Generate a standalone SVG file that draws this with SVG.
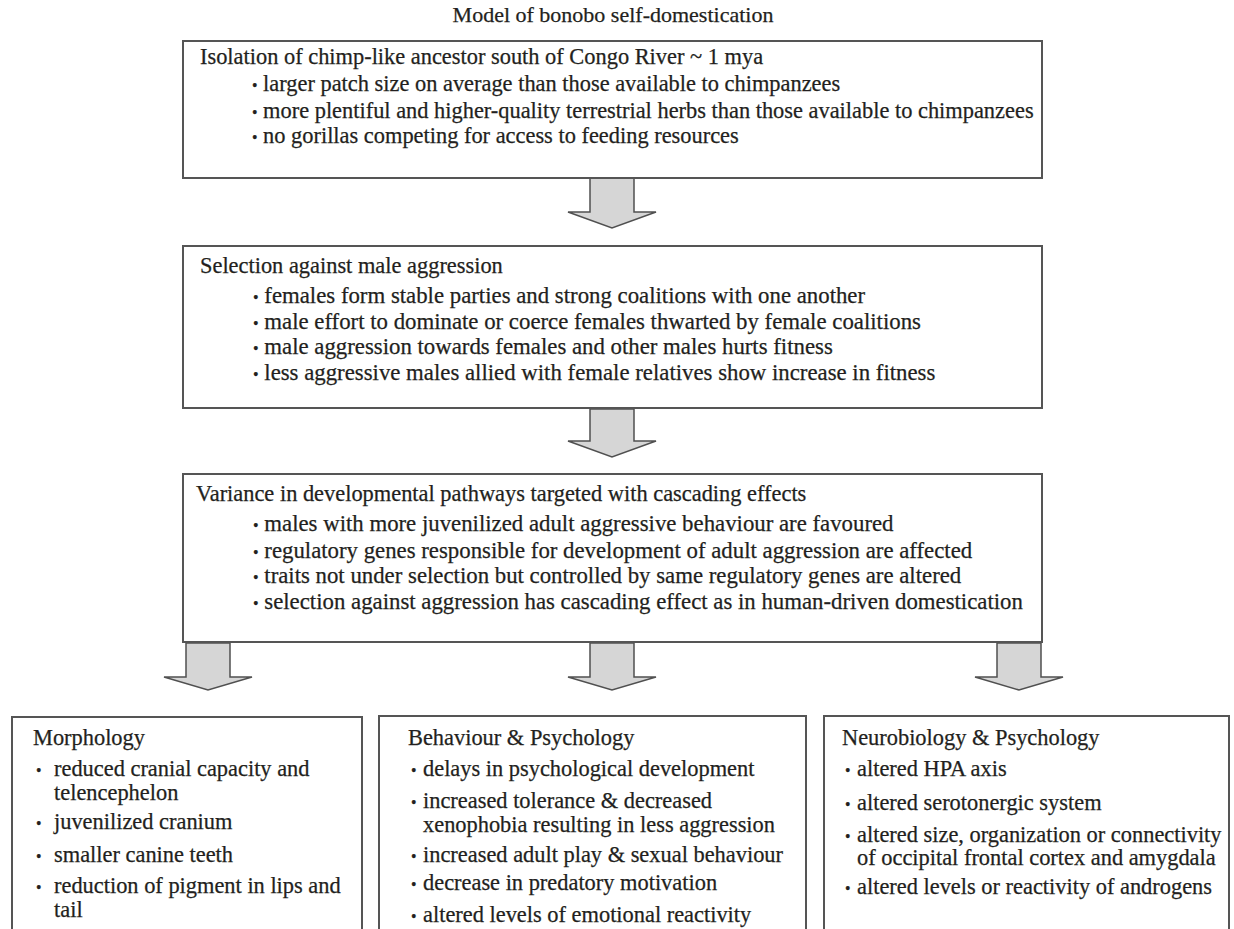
<svg xmlns="http://www.w3.org/2000/svg" width="1234" height="929" viewBox="0 0 1234 929">
  <style>
    .bg { fill: #ffffff; }
    .box { fill: #ffffff; stroke: #555555; stroke-width: 2; }
    .arrow { fill: #d6d6d6; stroke: #505050; stroke-width: 1.5; stroke-linejoin: miter; }
    text { font-family: "Liberation Serif", "Times New Roman", serif; fill: #231f20; stroke: #231f20; stroke-width: 0.25; font-size: 22.4px; }
    .title { font-size: 22px; }
    .m { font-size: 22.8px; }
    .dot { font-size: 0.7em; }
  </style>
  <rect class="bg" x="0" y="0" width="1234" height="929"/>
  <text class="title" x="613" y="22" text-anchor="middle">Model of bonobo self-domestication</text>

  <g id="connectors">
    <polygon class="arrow" points="590,178 590,212 568,212 612,228 656,212 634,212 634,178"/>
    <polygon class="arrow" points="590,409 590,441 568,441 612,457 656,441 634,441 634,409"/>
    <polygon class="arrow" points="186,643 186,677 164,677 208,690 252,677 230,677 230,643"/>
    <polygon class="arrow" points="590,643 590,677 568,677 612,690 656,677 634,677 634,643"/>
    <polygon class="arrow" points="997,643 997,677 975,677 1019,690 1063,677 1041,677 1041,643"/>
  </g>

  <g id="isolation">
    <rect class="box" x="183" y="41" width="859" height="137"/>
    <text x="200" y="64">Isolation of chimp-like ancestor south of Congo River ~ 1 mya</text>
    <text x="252" y="91"><tspan class="dot">•</tspan> larger patch size on average than those available to chimpanzees</text>
    <text x="252" y="118"><tspan class="dot">•</tspan> more plentiful and higher-quality terrestrial herbs than those available to chimpanzees</text>
    <text x="252" y="143"><tspan class="dot">•</tspan> no gorillas competing for access to feeding resources</text>
  </g>

  <g id="selection">
    <rect class="box" x="183" y="246" width="859" height="162"/>
    <text x="200" y="273">Selection against male aggression</text>
    <text class="m" x="253" y="303"><tspan class="dot">•</tspan> females form stable parties and strong coalitions with one another</text>
    <text class="m" x="253" y="329"><tspan class="dot">•</tspan> male effort to dominate or coerce females thwarted by female coalitions</text>
    <text class="m" x="253" y="354"><tspan class="dot">•</tspan> male aggression towards females and other males hurts fitness</text>
    <text class="m" x="253" y="380"><tspan class="dot">•</tspan> less aggressive males allied with female relatives show increase in fitness</text>
  </g>

  <g id="variance">
    <rect class="box" x="183" y="474" width="859" height="168"/>
    <text x="196" y="501">Variance in developmental pathways targeted with cascading effects</text>
    <text class="m" x="253" y="531"><tspan class="dot">•</tspan> males with more juvenilized adult aggressive behaviour are favoured</text>
    <text class="m" x="253" y="558"><tspan class="dot">•</tspan> regulatory genes responsible for development of adult aggression are affected</text>
    <text class="m" x="253" y="583"><tspan class="dot">•</tspan> traits not under selection but controlled by same regulatory genes are altered</text>
    <text class="m" x="253" y="609"><tspan class="dot">•</tspan> selection against aggression has cascading effect as in human-driven domestication</text>
  </g>

  <g id="morphology">
    <rect class="box" x="12" y="717" width="350" height="230"/>
    <text x="33" y="745">Morphology</text>
    <text x="36" y="776"><tspan class="dot">•</tspan></text>
    <text x="54" y="776">reduced cranial capacity and</text>
    <text x="54" y="800">telencephelon</text>
    <text x="36" y="829"><tspan class="dot">•</tspan></text>
    <text x="54" y="829">juvenilized cranium</text>
    <text x="36" y="862"><tspan class="dot">•</tspan></text>
    <text x="54" y="862">smaller canine teeth</text>
    <text x="36" y="893"><tspan class="dot">•</tspan></text>
    <text x="54" y="893">reduction of pigment in lips and</text>
    <text x="54" y="917">tail</text>
  </g>

  <g id="behaviour">
    <rect class="box" x="379" y="716" width="427" height="230"/>
    <text x="408" y="745">Behaviour &amp; Psychology</text>
    <text x="411" y="776"><tspan class="dot">•</tspan></text>
    <text x="423" y="776">delays in psychological development</text>
    <text x="411" y="808"><tspan class="dot">•</tspan></text>
    <text x="423" y="808">increased tolerance &amp; decreased</text>
    <text x="423" y="832">xenophobia resulting in less aggression</text>
    <text x="411" y="862"><tspan class="dot">•</tspan></text>
    <text x="423" y="862">increased adult play &amp; sexual behaviour</text>
    <text x="411" y="890"><tspan class="dot">•</tspan></text>
    <text x="423" y="890">decrease in predatory motivation</text>
    <text x="411" y="922"><tspan class="dot">•</tspan></text>
    <text x="423" y="922">altered levels of emotional reactivity</text>
  </g>

  <g id="neurobiology">
    <rect class="box" x="824" y="716" width="405" height="230"/>
    <text x="842" y="745">Neurobiology &amp; Psychology</text>
    <text x="845" y="776"><tspan class="dot">•</tspan></text>
    <text x="857" y="776">altered HPA axis</text>
    <text x="845" y="810"><tspan class="dot">•</tspan></text>
    <text x="857" y="810">altered serotonergic system</text>
    <text x="845" y="842"><tspan class="dot">•</tspan></text>
    <text x="857" y="842">altered size, organization or connectivity</text>
    <text x="857" y="865">of occipital frontal cortex and amygdala</text>
    <text x="845" y="894"><tspan class="dot">•</tspan></text>
    <text x="857" y="894">altered levels or reactivity of androgens</text>
  </g>
</svg>
